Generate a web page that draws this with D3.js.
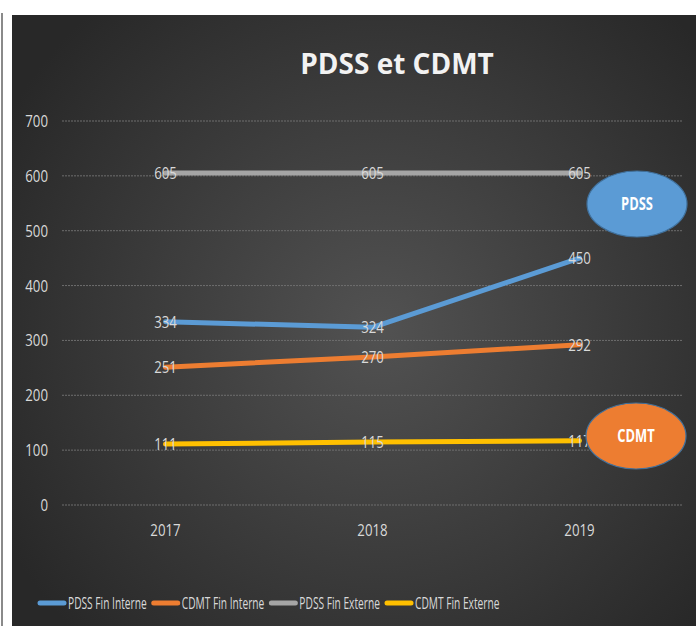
<!DOCTYPE html>
<html>
<head>
<meta charset="utf-8">
<script src="https://cdn.jsdelivr.net/npm/d3@7"></script>
<style>
  body { margin: 0; background: #fff; }
  svg { display: block; }
  text { font-family: "Open Sans", sans-serif; }
</style>
</head>
<body>
<svg id="chart"></svg>
<script>
const years = ['2017', '2018', '2019'];
const seriesNames = ['PDSS Fin Interne', 'CDMT Fin Interne', 'PDSS Fin Externe', 'CDMT Fin Externe'];
const pdssInterne = [334, 324, 450];
const cdmtInterne = [251, 270, 292];
const pdssExterne = [605, 605, 605];
const cdmtExterne = [111, 115, 117];
const yTicks = [0, 100, 200, 300, 400, 500, 600, 700];
const colors = ['#5b9bd5', '#ed7d31', '#a5a5a5', '#ffc000'];

const W = 696, H = 626;
const svg = d3.select('#chart').attr('width', W).attr('height', H);

// squeeze text horizontally (narrow font look) with a transform
const condense = (sel, k) => sel.each(function () {
  const t = d3.select(this);
  const tx = +t.attr('x') || 0;
  const ty = +t.attr('y') || 0;
  t.attr('x', 0).attr('y', 0)
    .attr('transform', `translate(${tx},${ty}) scale(${k},1)`);
});

// Background gradient
const defs = svg.append('defs');
const grad = defs.append('radialGradient')
  .attr('id', 'bg')
  .attr('gradientUnits', 'userSpaceOnUse')
  .attr('cx', 380).attr('cy', 330).attr('r', 430);
grad.append('stop').attr('offset', '0%').attr('stop-color', '#525252');
grad.append('stop').attr('offset', '100%').attr('stop-color', '#282828');

// Frame on the left
svg.append('line')
  .attr('x1', 2).attr('x2', 2).attr('y1', 13).attr('y2', H)
  .attr('stroke', '#8a8a8a').attr('stroke-width', 2);

svg.append('rect')
  .attr('x', 12).attr('y', 15)
  .attr('width', W - 12).attr('height', H - 15)
  .attr('fill', 'url(#bg)');

// Title
svg.append('text')
  .attr('x', 397).attr('y', 74)
  .attr('text-anchor', 'middle')
  .attr('fill', '#f2f2f2')
  .attr('font-weight', 'bold')
  .attr('font-size', '28px')
  .text('PDSS et CDMT');

const margin = { left: 62, right: 683, top: 121, bottom: 505 };

const x = d3.scaleBand()
  .domain(years)
  .range([margin.left, margin.right]);

const y = d3.scaleLinear()
  .domain([0, 700])
  .range([margin.bottom, margin.top]);

// Gridlines
svg.append('g')
  .selectAll('line')
  .data(yTicks)
  .enter().append('line')
  .attr('x1', margin.left).attr('x2', margin.right)
  .attr('y1', d => y(d)).attr('y2', d => y(d))
  .attr('stroke', '#6e6e6e')
  .attr('stroke-width', 1)
  .attr('stroke-dasharray', '2,1');

// Y axis labels
const yAxis = svg.append('g')
  .attr('transform', `translate(${margin.left - 14},0)`)
  .call(d3.axisLeft(y).tickValues(yTicks).tickSize(0).tickPadding(0));
yAxis.select('.domain').remove();
yAxis.selectAll('text')
  .attr('fill', '#d9d9d9')
  .attr('font-size', '17px')
  .style('font-family', '"Open Sans", sans-serif')
  .call(condense, 0.78);

// X axis labels
const xAxis = svg.append('g')
  .attr('transform', `translate(0,${margin.bottom + 19})`)
  .call(d3.axisBottom(x).tickSize(0).tickPadding(0));
xAxis.select('.domain').remove();
xAxis.selectAll('text')
  .attr('fill', '#d9d9d9')
  .attr('font-size', '17px')
  .style('font-family', '"Open Sans", sans-serif')
  .call(condense, 0.78);

const allSeries = [pdssInterne, cdmtInterne, pdssExterne, cdmtExterne];

const line = d3.line()
  .x((d, i) => x(years[i]) + x.bandwidth() / 2)
  .y(d => y(d));

// Draw lines
allSeries.forEach((vals, si) => {
  svg.append('path')
    .datum(vals)
    .attr('d', line)
    .attr('fill', 'none')
    .attr('stroke', colors[si])
    .attr('stroke-width', 5)
    .attr('stroke-linecap', 'round')
    .attr('stroke-linejoin', 'round');
});

// Data labels, centered on points
allSeries.forEach(vals => {
  svg.append('g')
    .selectAll('text')
    .data(vals)
    .enter().append('text')
    .attr('x', (d, i) => x(years[i]) + x.bandwidth() / 2)
    .attr('y', d => y(d))
    .attr('dy', '0.36em')
    .attr('text-anchor', 'middle')
    .attr('fill', '#d9d9d9')
    .attr('font-size', '17px')
    .text(d => d)
    .call(condense, 0.78);
});

// Callout ellipses
const callouts = [
  { label: 'PDSS', cx: 637, cy: 204, fill: '#5b9bd5' },
  { label: 'CDMT', cx: 636, cy: 436, fill: '#ed7d31' }
];
const co = svg.append('g')
  .selectAll('g')
  .data(callouts)
  .enter().append('g')
  .attr('transform', d => `translate(${d.cx},${d.cy})`);
co.append('ellipse')
  .attr('rx', 50).attr('ry', 33)
  .attr('fill', d => d.fill)
  .attr('stroke', '#41719c')
  .attr('stroke-width', 1.2);
co.append('text')
  .attr('text-anchor', 'middle')
  .attr('dy', '0.35em')
  .attr('fill', '#fff')
  .attr('font-weight', 'bold')
  .attr('font-size', '17px')
  .text(d => d.label)
  .call(condense, 0.76);

// Legend, laid out left to right
const legendK = 0.6;
let cursor = 38;
const legend = svg.append('g').attr('transform', 'translate(0,603)');
seriesNames.forEach((name, i) => {
  const item = legend.append('g').attr('transform', `translate(${cursor},0)`);
  item.append('line')
    .attr('x1', 2).attr('x2', 26)
    .attr('y1', 0).attr('y2', 0)
    .attr('stroke', colors[i])
    .attr('stroke-width', 5)
    .attr('stroke-linecap', 'round');
  const t = item.append('text')
    .attr('x', 30)
    .attr('dy', '0.36em')
    .attr('fill', '#d9d9d9')
    .attr('font-size', '17px')
    .text(name);
  const len = t.node().getComputedTextLength() * legendK;
  t.call(condense, legendK);
  cursor += 30 + len + 5;
});
</script>
</body>
</html>
